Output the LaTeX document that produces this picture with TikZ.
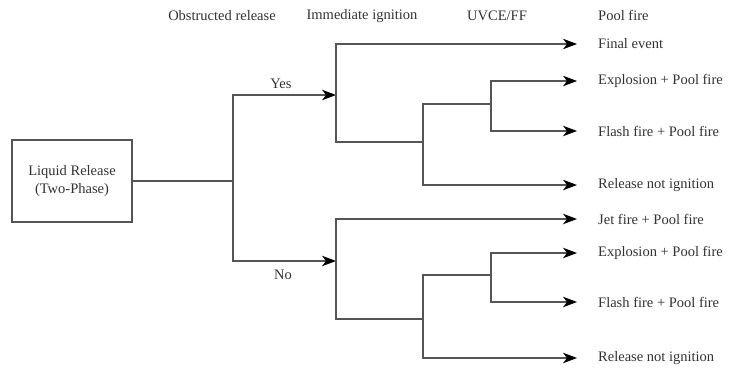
\documentclass[tikz,border=0pt]{standalone}
\usepackage{fontspec}
\setmainfont{Liberation Serif}
\usetikzlibrary{arrows.meta}

\definecolor{linegray}{HTML}{555555}
\definecolor{txtgray}{HTML}{333333}

\tikzset{
  branch/.style={draw=linegray, line width=1.1pt},
  outcome/.style={anchor=west, inner xsep=21pt, inner ysep=0pt, text=txtgray},
  header/.style={text=txtgray},
}

\begin{document}
\begin{tikzpicture}[x=1pt, y=-1pt, >={Stealth[length=14pt, width=10.5pt, inset=4pt, color=black]},
  every node/.style={font=\fontsize{14.5}{18}\selectfont}]
  \useasboundingbox[fill=white] (0,0) rectangle (739,370);

  % column headers
  \node[header] (hobs) at (222,16) {Obstructed release};
  \node[header] (himm) at (362,16) {Immediate ignition};
  \node[header] (huvce) at (497,16) {UVCE/FF};
  \node[header, anchor=west, inner xsep=0pt] (hpool) at (598,15) {Pool fire};

  % initiating event
  \node[draw=linegray, line width=1.1pt, minimum width=120, minimum height=82,
        align=center, text=txtgray] (src) at (72,181) {Liquid Release\\(Two-Phase)};

  % final events
  \node[outcome] (o1) at (577,44) {Final event};
  \node[outcome] (o2) at (577,81) {Explosion + Pool fire};
  \node[outcome] (o3) at (577,131) {Flash fire + Pool fire};
  \node[outcome] (o4) at (577,185) {Release not ignition};
  \node[outcome] (o5) at (577,219) {Jet fire + Pool fire};
  \node[outcome] (o6) at (577,253) {Explosion + Pool fire};
  \node[outcome] (o7) at (577,302) {Flash fire + Pool fire};
  \node[outcome] (o8) at (577,358) {Release not ignition};

  % branch points
  \coordinate (j0) at (233,181);
  \coordinate (iy) at (336,95);
  \coordinate (in) at (336,261);
  \coordinate (uy) at (423,142);
  \coordinate (un) at (423,319);
  \coordinate (fy) at (491,104);
  \coordinate (fn) at (491,275);

  % obstructed release
  \draw[branch] (src.east) -- (j0);
  \draw[branch, ->] (j0) |- (iy);
  \draw[branch, ->] (j0) |- (in);
  \node[text=txtgray] (lyes) at (281,84) {Yes};
  \node[text=txtgray] (lno) at (283,275) {No};

  % immediate ignition, yes
  \draw[branch, ->] (iy) |- (o1.west);
  \draw[branch] (iy) |- (uy);
  \draw[branch] (uy) |- (fy);
  \draw[branch, ->] (fy) |- (o2.west);
  \draw[branch, ->] (fy) |- (o3.west);
  \draw[branch, ->] (uy) |- (o4.west);

  % immediate ignition, no
  \draw[branch, ->] (in) |- (o5.west);
  \draw[branch] (in) |- (un);
  \draw[branch] (un) |- (fn);
  \draw[branch, ->] (fn) |- (o6.west);
  \draw[branch, ->] (fn) |- (o7.west);
  \draw[branch, ->] (un) |- (o8.west);
\end{tikzpicture}
\end{document}
